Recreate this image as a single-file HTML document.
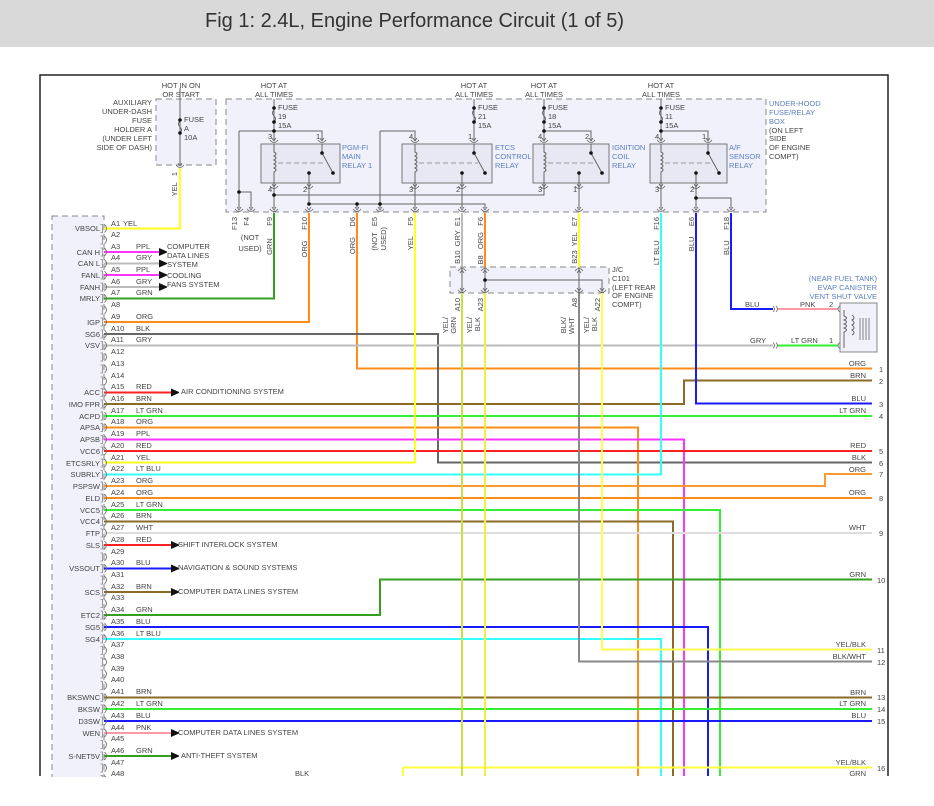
<!DOCTYPE html>
<html><head><meta charset="utf-8"><style>
html,body{margin:0;padding:0;background:#fff;}
svg{display:block;}
text{font-family:"Liberation Sans",sans-serif;font-size:7.5px;fill:#444;}
.b{fill:#5b7fbf;}
.w{fill:none;stroke-width:2;}
</style></head><body>
<svg width="934" height="806" viewBox="0 0 934 806" xmlns="http://www.w3.org/2000/svg">
<defs>
<g id="pin"><path d="M100.5,-4 h2 v8 h-2" fill="none" stroke="#888" stroke-width="0.8"/><path d="M104.5,-4 q4,4 0,8" fill="none" stroke="#666" stroke-width="0.8"/></g>
<g id="cn"><path d="M-4,-3 q4,5 8,0" fill="none" stroke="#666" stroke-width="0.8"/><path d="M-2,-5 l2,3 l2,-3" fill="none" stroke="#666" stroke-width="0.8"/></g>
<g id="cu"><path d="M-4,3 q4,-5 8,0" fill="none" stroke="#666" stroke-width="0.8"/><path d="M-2,5 l2,-3 l2,3" fill="none" stroke="#666" stroke-width="0.8"/></g>
<marker id="ar" markerWidth="8" markerHeight="8" refX="1" refY="4" orient="auto" markerUnits="userSpaceOnUse"><path d="M0,0 L9,4 L0,8z" fill="#111"/></marker>
</defs>
<rect x="0" y="0" width="934" height="47" fill="#d9d9d9"/>
<text x="205" y="27" style="font-size:20px;fill:#333">Fig 1: 2.4L, Engine Performance Circuit (1 of 5)</text>
<path d="M40,776 V75 H888 V776" fill="none" stroke="#222" stroke-width="1.5"/>

<rect x="52" y="216" width="52" height="565" fill="#f1f1fb" stroke="#888" stroke-dasharray="6,4"/>
<rect x="156" y="99" width="60" height="66" fill="#f1f1fb" stroke="#888" stroke-dasharray="6,4"/>
<rect x="226" y="99" width="540" height="113" fill="#f1f1fb" stroke="#888" stroke-dasharray="6,4"/>
<rect x="450" y="267" width="159" height="26" fill="#f1f1fb" stroke="#888" stroke-dasharray="6,4"/>
<rect x="840" y="303" width="37" height="49" fill="#f1f1fb" stroke="#888"/>
<path d="M844,310 v6 q5,2 0,4 q5,2 0,4 q5,2 0,4 q5,2 0,4 v16" fill="none" stroke="#666"/>
<path d="M860,318 v22 M863,318 v22 M866,318 v22 M869,318 v22" stroke="#666" stroke-width="0.8"/>
<path d="M852,315 q4,3 0,5 q4,3 0,5 q4,3 0,5 q4,3 0,5" fill="none" stroke="#666"/>

<g fill="#e8e8f4" stroke="#777">
<rect x="261" y="144" width="79" height="39"/>
<rect x="402" y="144" width="90" height="39"/>
<rect x="533" y="144" width="76" height="39"/>
<rect x="650" y="144" width="77" height="39"/>
</g>
<g stroke="#666" fill="none" stroke-width="1">
<path d="M180,88 V165"/>
<path d="M274,99 V140 M474,99 V140 M544,99 V140 M661,99 V140"/>
<path d="M239,131 H322 V140 M239,131 V208 M239,192 H251 V208"/>
<path d="M380,131 H415 V140 M380,131 V208"/>
<path d="M544,131 H591 V140 M661,131 H708 V140"/>
<path d="M274,183 V208 M274,195 H544 V183"/>
<path d="M309,183 V204 M309,204 H485 V208 M357,204 V208"/>
<path d="M415,183 V208 M462,183 V208 M579,183 V208 M661,183 V208 M696,183 V208 M696,198 H731 V208"/>
<path d="M274,144 V152 q4,2 0,4 q4,2 0,4 q4,2 0,4 q4,2 0,4 q4,2 0,4 V183"/>
<path d="M415,144 V152 q4,2 0,4 q4,2 0,4 q4,2 0,4 q4,2 0,4 q4,2 0,4 V183"/>
<path d="M544,144 V152 q4,2 0,4 q4,2 0,4 q4,2 0,4 q4,2 0,4 q4,2 0,4 V183"/>
<path d="M661,144 V152 q4,2 0,4 q4,2 0,4 q4,2 0,4 q4,2 0,4 q4,2 0,4 V183"/>
<path d="M322,144 V153 L333,173 M309,183 V173"/>
<path d="M474,144 V153 L485,173 M462,183 V173"/>
<path d="M591,144 V153 L602,173 M579,183 V173"/>
<path d="M708,144 V153 L719,173 M696,183 V173"/>
<path d="M278,163 H326 M419,163 H478 M548,163 H595 M665,163 H712" stroke-dasharray="5,3" stroke="#999"/>
<path d="M462,267 V293 M485,267 V293 M579,267 V293 M485,280 H602 V293"/>
</g>
<g fill="none" stroke="#666" stroke-width="1">
<path d="M274,110 q-3,3 0,6 q3,3 0,6"/>
<path d="M474,110 q-3,3 0,6 q3,3 0,6" />
<path d="M544,110 q-3,3 0,6 q3,3 0,6"/>
<path d="M661,110 q-3,3 0,6 q3,3 0,6"/>
<path d="M180,121 q-3,3 0,6 q3,3 0,6"/>
</g>
<g fill="#111">
<circle cx="274" cy="108" r="1.8"/><circle cx="274" cy="122" r="1.8"/>
<circle cx="474" cy="108" r="1.8"/><circle cx="474" cy="122" r="1.8"/>
<circle cx="544" cy="108" r="1.8"/><circle cx="544" cy="122" r="1.8"/>
<circle cx="661" cy="108" r="1.8"/><circle cx="661" cy="122" r="1.8"/>
<circle cx="180" cy="120" r="1.8"/><circle cx="180" cy="133" r="1.8"/>
<circle cx="274" cy="131" r="1.8"/><circle cx="544" cy="131" r="1.8"/><circle cx="661" cy="131" r="1.8"/>
<circle cx="239" cy="192" r="1.8"/><circle cx="274" cy="195" r="1.8"/>
<circle cx="309" cy="204" r="1.8"/><circle cx="357" cy="204" r="1.8"/><circle cx="380" cy="204" r="1.8"/>
<circle cx="696" cy="198" r="1.8"/><circle cx="485" cy="280" r="1.8"/>
<circle cx="322" cy="153" r="1.8"/><circle cx="333" cy="173" r="1.8"/><circle cx="309" cy="173" r="1.8"/>
<circle cx="474" cy="153" r="1.8"/><circle cx="485" cy="173" r="1.8"/><circle cx="462" cy="173" r="1.8"/>
<circle cx="591" cy="153" r="1.8"/><circle cx="602" cy="173" r="1.8"/><circle cx="579" cy="173" r="1.8"/>
<circle cx="708" cy="153" r="1.8"/><circle cx="719" cy="173" r="1.8"/><circle cx="696" cy="173" r="1.8"/>
</g>

<g class="w">
<path d="M180,168 V228.5 H104" stroke="#ffff20"/>
<path d="M104,252 H160" stroke="#ff33ff" marker-end="url(#ar)"/>
<path d="M104,263.5 H160" stroke="#bbb" marker-end="url(#ar)"/>
<path d="M104,275 H160" stroke="#ff33ff" marker-end="url(#ar)"/>
<path d="M104,287 H160" stroke="#bbb" marker-end="url(#ar)"/>
<path d="M274,213 V298.5 H104" stroke="#33a020"/>
<path d="M309,213 V322 H104" stroke="#ff8c1a"/>
<path d="M357,213 V368.5 H872" stroke="#ff8c1a"/>
<path d="M104,334 H438 V462.5 H872" stroke="#666"/>
<path d="M104,345.5 H773" stroke="#bbb"/>
<path d="M778,345.5 H838" stroke="#33ee33"/>
<path d="M731,213 V309 H773" stroke="#1a1aff"/>
<path d="M778,309 H838" stroke="#ff99aa"/>
<path d="M104,392.5 H172" stroke="#ff2020" marker-end="url(#ar)"/>
<path d="M104,404 H684 V380.5 H872" stroke="#8b6a2a"/>
<path d="M696,213 V403.5 H872" stroke="#1a1aff"/>
<path d="M104,416 H872" stroke="#33ee33"/>
<path d="M104,427.5 H638 V776" stroke="#ff8c1a"/>
<path d="M104,439.5 H684 V776" stroke="#ff33ff"/>
<path d="M104,451 H872" stroke="#ff2020"/>
<path d="M415,213 V462.5 H104" stroke="#ffff20"/>
<path d="M661,213 V474.5 H104" stroke="#33ffff"/>
<path d="M104,486 H825 V474 H872" stroke="#ff9a30"/>
<path d="M104,498 H872" stroke="#ff8c1a"/>
<path d="M104,510 H720 V776" stroke="#33ee33"/>
<path d="M104,521.5 H673 V776" stroke="#8b6a2a"/>
<path d="M104,533 H872" stroke="#ddd"/>
<path d="M104,545 H172" stroke="#ff2020" marker-end="url(#ar)"/>
<path d="M104,568.5 H172" stroke="#1a1aff" marker-end="url(#ar)"/>
<path d="M104,592 H172" stroke="#8b6a2a" marker-end="url(#ar)"/>
<path d="M104,615 H380 V579.5 H872" stroke="#33a020"/>
<path d="M104,627 H708 V776" stroke="#1a1aff"/>
<path d="M104,639 H661 V776" stroke="#33ffff"/>
<path d="M602,293 V649.5 H872" stroke="#ffff50"/>
<path d="M579,293 V661.5 H872" stroke="#888"/>
<path d="M104,697.5 H872" stroke="#8b6a2a"/>
<path d="M104,709 H872" stroke="#33ee33"/>
<path d="M104,721 H872" stroke="#1a1aff"/>
<path d="M104,733 H172" stroke="#ff99aa" marker-end="url(#ar)"/>
<path d="M104,756 H172" stroke="#33a020" marker-end="url(#ar)"/>
<path d="M403,776 V767.5 H872" stroke="#ffff40"/>
<path d="M462,213 V267" stroke="#bbb"/>
<path d="M485,213 V267" stroke="#ff8c1a"/>
<path d="M579,213 V267" stroke="#ffff20"/>
<path d="M462,293 V776" stroke="#c8e040"/>
<path d="M485,293 V776" stroke="#f0f040"/>
</g>

<g>
<use href="#cn" x="180" y="168"/>
<use href="#cn" x="239" y="212"/><use href="#cn" x="251" y="212"/><use href="#cn" x="274" y="212"/><use href="#cn" x="309" y="212"/><use href="#cn" x="357" y="212"/><use href="#cn" x="380" y="212"/><use href="#cn" x="415" y="212"/><use href="#cn" x="462" y="212"/><use href="#cn" x="485" y="212"/><use href="#cn" x="579" y="212"/><use href="#cn" x="661" y="212"/><use href="#cn" x="696" y="212"/><use href="#cn" x="731" y="212"/>
<use href="#cn" x="274" y="143"/><use href="#cn" x="322" y="143"/><use href="#cn" x="415" y="143"/><use href="#cn" x="474" y="143"/><use href="#cn" x="544" y="143"/><use href="#cn" x="591" y="143"/><use href="#cn" x="661" y="143"/><use href="#cn" x="708" y="143"/>
<use href="#cn" x="274" y="189"/><use href="#cn" x="309" y="189"/><use href="#cn" x="415" y="189"/><use href="#cn" x="462" y="189"/><use href="#cn" x="544" y="189"/><use href="#cn" x="579" y="189"/><use href="#cn" x="661" y="189"/><use href="#cn" x="696" y="189"/>
<use href="#cu" x="462" y="268"/><use href="#cu" x="485" y="268"/><use href="#cu" x="579" y="268"/>
<use href="#cn" x="462" y="293"/><use href="#cn" x="485" y="293"/><use href="#cn" x="579" y="293"/><use href="#cn" x="602" y="293"/>
</g>
<g fill="none" stroke="#666" stroke-width="0.8">
<path d="M773,306 q3,3 0,6 M776,306 q3,3 0,6 M773,342.5 q3,3 0,6 M776,342.5 q3,3 0,6 M840,306 q-4,3 0,6 M840,342.5 q-4,3 0,6"/>
</g>
<g>
<use href="#pin" y="228.5"/><use href="#pin" y="240"/><use href="#pin" y="252"/><use href="#pin" y="263.5"/><use href="#pin" y="275"/><use href="#pin" y="287"/><use href="#pin" y="298.5"/><use href="#pin" y="310"/><use href="#pin" y="322"/><use href="#pin" y="334"/><use href="#pin" y="345.5"/><use href="#pin" y="357"/><use href="#pin" y="369"/><use href="#pin" y="381"/><use href="#pin" y="392.5"/><use href="#pin" y="404"/><use href="#pin" y="416"/><use href="#pin" y="427.5"/><use href="#pin" y="439.5"/><use href="#pin" y="451"/><use href="#pin" y="463"/><use href="#pin" y="474.5"/><use href="#pin" y="486"/><use href="#pin" y="498"/><use href="#pin" y="510"/><use href="#pin" y="521.5"/><use href="#pin" y="533"/><use href="#pin" y="545"/><use href="#pin" y="557"/><use href="#pin" y="568.5"/><use href="#pin" y="580"/><use href="#pin" y="592"/><use href="#pin" y="603.5"/><use href="#pin" y="615"/><use href="#pin" y="627"/><use href="#pin" y="639"/><use href="#pin" y="650.5"/><use href="#pin" y="662"/><use href="#pin" y="674"/><use href="#pin" y="685.5"/><use href="#pin" y="697.5"/><use href="#pin" y="709"/><use href="#pin" y="721"/><use href="#pin" y="733"/><use href="#pin" y="744.5"/><use href="#pin" y="756"/><use href="#pin" y="768"/><use href="#pin" y="779.5"/>
</g>

<g>
<text x="111" y="226">A1</text><text x="123" y="226">YEL</text>
<text x="111" y="237">A2</text>
<text x="111" y="249">A3</text><text x="136" y="249">PPL</text>
<text x="111" y="260">A4</text><text x="136" y="260">GRY</text>
<text x="111" y="272">A5</text><text x="136" y="272">PPL</text>
<text x="111" y="284">A6</text><text x="136" y="284">GRY</text>
<text x="111" y="295">A7</text><text x="136" y="295">GRN</text>
<text x="111" y="307">A8</text>
<text x="111" y="319">A9</text><text x="136" y="319">ORG</text>
<text x="111" y="331">A10</text><text x="136" y="331">BLK</text>
<text x="111" y="342">A11</text><text x="136" y="342">GRY</text>
<text x="111" y="354">A12</text>
<text x="111" y="366">A13</text>
<text x="111" y="378">A14</text>
<text x="111" y="389">A15</text><text x="136" y="389">RED</text>
<text x="111" y="401">A16</text><text x="136" y="401">BRN</text>
<text x="111" y="413">A17</text><text x="136" y="413">LT GRN</text>
<text x="111" y="424">A18</text><text x="136" y="424">ORG</text>
<text x="111" y="436">A19</text><text x="136" y="436">PPL</text>
<text x="111" y="448">A20</text><text x="136" y="448">RED</text>
<text x="111" y="460">A21</text><text x="136" y="460">YEL</text>
<text x="111" y="471">A22</text><text x="136" y="471">LT BLU</text>
<text x="111" y="483">A23</text><text x="136" y="483">ORG</text>
<text x="111" y="495">A24</text><text x="136" y="495">ORG</text>
<text x="111" y="507">A25</text><text x="136" y="507">LT GRN</text>
<text x="111" y="518">A26</text><text x="136" y="518">BRN</text>
<text x="111" y="530">A27</text><text x="136" y="530">WHT</text>
<text x="111" y="542">A28</text><text x="136" y="542">RED</text>
<text x="111" y="554">A29</text>
<text x="111" y="565">A30</text><text x="136" y="565">BLU</text>
<text x="111" y="577">A31</text>
<text x="111" y="589">A32</text><text x="136" y="589">BRN</text>
<text x="111" y="600">A33</text>
<text x="111" y="612">A34</text><text x="136" y="612">GRN</text>
<text x="111" y="624">A35</text><text x="136" y="624">BLU</text>
<text x="111" y="636">A36</text><text x="136" y="636">LT BLU</text>
<text x="111" y="647">A37</text>
<text x="111" y="659">A38</text>
<text x="111" y="671">A39</text>
<text x="111" y="682">A40</text>
<text x="111" y="694">A41</text><text x="136" y="694">BRN</text>
<text x="111" y="706">A42</text><text x="136" y="706">LT GRN</text>
<text x="111" y="718">A43</text><text x="136" y="718">BLU</text>
<text x="111" y="730">A44</text><text x="136" y="730">PNK</text>
<text x="111" y="741">A45</text>
<text x="111" y="753">A46</text><text x="136" y="753">GRN</text>
<text x="111" y="765">A47</text>
<text x="111" y="776">A48</text>
</g>
<g text-anchor="end">
<text x="100" y="231">VBSOL</text>
<text x="100" y="255">CAN H</text>
<text x="100" y="266">CAN L</text>
<text x="100" y="278">FANL</text>
<text x="100" y="290">FANH</text>
<text x="100" y="301">MRLY</text>
<text x="100" y="325">IGP</text>
<text x="100" y="337">SG6</text>
<text x="100" y="348">VSV</text>
<text x="100" y="395">ACC</text>
<text x="100" y="407">IMO FPR</text>
<text x="100" y="419">ACPD</text>
<text x="100" y="430">APSA</text>
<text x="100" y="442">APSB</text>
<text x="100" y="454">VCC6</text>
<text x="100" y="466">ETCSRLY</text>
<text x="100" y="477">SUBRLY</text>
<text x="100" y="489">PSPSW</text>
<text x="100" y="501">ELD</text>
<text x="100" y="513">VCC5</text>
<text x="100" y="524">VCC4</text>
<text x="100" y="536">FTP</text>
<text x="100" y="548">SLS</text>
<text x="100" y="571">VSSOUT</text>
<text x="100" y="595">SCS</text>
<text x="100" y="618">ETC2</text>
<text x="100" y="630">SG5</text>
<text x="100" y="642">SG4</text>
<text x="100" y="700">BKSWNC</text>
<text x="100" y="712">BKSW</text>
<text x="100" y="724">D3SW</text>
<text x="100" y="736">WEN</text>
<text x="100" y="759">S-NET5V</text>
</g>
<g>
<text x="167" y="249">COMPUTER</text><text x="167" y="258">DATA LINES</text><text x="167" y="267">SYSTEM</text>
<text x="167" y="278">COOLING</text><text x="167" y="287">FANS SYSTEM</text>
<text x="181" y="394">AIR CONDITIONING SYSTEM</text>
<text x="178" y="547">SHIFT INTERLOCK SYSTEM</text>
<text x="178" y="570">NAVIGATION &amp; SOUND SYSTEMS</text>
<text x="178" y="594">COMPUTER DATA LINES SYSTEM</text>
<text x="178" y="735">COMPUTER DATA LINES SYSTEM</text>
<text x="181" y="758">ANTI-THEFT SYSTEM</text>
<text x="295" y="776">BLK</text>
</g>

<g text-anchor="end">
<text x="866" y="366">ORG</text><text x="866" y="378">BRN</text><text x="866" y="401">BLU</text><text x="866" y="413">LT GRN</text>
<text x="866" y="448">RED</text><text x="866" y="460">BLK</text><text x="866" y="472">ORG</text><text x="866" y="495">ORG</text>
<text x="866" y="530">WHT</text><text x="866" y="577">GRN</text><text x="866" y="647">YEL/BLK</text><text x="866" y="659">BLK/WHT</text>
<text x="866" y="695">BRN</text><text x="866" y="706">LT GRN</text><text x="866" y="718">BLU</text>
<text x="866" y="765">YEL/BLK</text><text x="866" y="776">GRN</text>
</g>
<g>
<text x="879" y="372">1</text><text x="879" y="384">2</text><text x="879" y="407">3</text><text x="879" y="419">4</text>
<text x="879" y="454">5</text><text x="879" y="466">6</text><text x="879" y="477">7</text><text x="879" y="501">8</text>
<text x="879" y="536">9</text><text x="877" y="583">10</text><text x="877" y="653">11</text><text x="877" y="665">12</text>
<text x="877" y="700">13</text><text x="877" y="712">14</text><text x="877" y="724">15</text><text x="877" y="771">16</text>
</g>

<g text-anchor="middle">
<text x="181" y="88">HOT IN ON</text><text x="181" y="97">OR START</text>
<text x="274" y="88">HOT AT</text><text x="274" y="97">ALL TIMES</text>
<text x="474" y="88">HOT AT</text><text x="474" y="97">ALL TIMES</text>
<text x="544" y="88">HOT AT</text><text x="544" y="97">ALL TIMES</text>
<text x="661" y="88">HOT AT</text><text x="661" y="97">ALL TIMES</text>
<text x="250" y="240">(NOT</text><text x="250" y="251">USED)</text>
</g>
<g text-anchor="end">
<text x="152" y="105">AUXILIARY</text><text x="152" y="114">UNDER-DASH</text><text x="152" y="123">FUSE</text><text x="152" y="132">HOLDER A</text><text x="152" y="141">(UNDER LEFT</text><text x="152" y="150">SIDE OF DASH)</text>
<text x="877" y="281" class="b">(NEAR FUEL TANK)</text><text x="877" y="290" class="b">EVAP CANISTER</text><text x="877" y="299" class="b">VENT SHUT VALVE</text>
</g>
<g>
<text x="184" y="122">FUSE</text><text x="184" y="131">A</text><text x="184" y="140">10A</text>
<text x="278" y="110">FUSE</text><text x="278" y="119">19</text><text x="278" y="128">15A</text>
<text x="478" y="110">FUSE</text><text x="478" y="119">21</text><text x="478" y="128">15A</text>
<text x="548" y="110">FUSE</text><text x="548" y="119">18</text><text x="548" y="128">15A</text>
<text x="665" y="110">FUSE</text><text x="665" y="119">11</text><text x="665" y="128">15A</text>
<text x="342" y="150" class="b">PGM-FI</text><text x="342" y="159" class="b">MAIN</text><text x="342" y="168" class="b">RELAY 1</text>
<text x="495" y="150" class="b">ETCS</text><text x="495" y="159" class="b">CONTROL</text><text x="495" y="168" class="b">RELAY</text>
<text x="612" y="150" class="b">IGNITION</text><text x="612" y="159" class="b">COIL</text><text x="612" y="168" class="b">RELAY</text>
<text x="729" y="150" class="b">A/F</text><text x="729" y="159" class="b">SENSOR</text><text x="729" y="168" class="b">RELAY</text>
<text x="769" y="106" class="b">UNDER-HOOD</text><text x="769" y="115" class="b">FUSE/RELAY</text><text x="769" y="124" class="b">BOX</text><text x="769" y="133">(ON LEFT</text><text x="769" y="141">SIDE</text><text x="769" y="150">OF ENGINE</text><text x="769" y="159">COMPT)</text>
<text x="612" y="272">J/C</text><text x="612" y="281">C101</text><text x="612" y="290">(LEFT REAR</text><text x="612" y="298">OF ENGINE</text><text x="612" y="307">COMPT)</text>
<text x="750" y="343">GRY</text><text x="791" y="343">LT GRN</text><text x="829" y="343">1</text>
<text x="745" y="307">BLU</text><text x="800" y="307">PNK</text><text x="829" y="307">2</text>
<text x="268" y="139">3</text><text x="316" y="139">1</text><text x="268" y="192">4</text><text x="303" y="192">2</text>
<text x="409" y="139">4</text><text x="468" y="139">1</text><text x="409" y="192">3</text><text x="456" y="192">2</text>
<text x="538" y="139">4</text><text x="585" y="139">2</text><text x="538" y="192">3</text><text x="573" y="192">1</text>
<text x="655" y="139">4</text><text x="702" y="139">1</text><text x="655" y="192">3</text><text x="690" y="192">2</text>
</g>
<g text-anchor="end" style="white-space:pre">
<text transform="translate(177,172) rotate(-90)" xml:space="preserve">YEL   1</text>
<text transform="translate(237,217) rotate(-90)">F13</text>
<text transform="translate(249,217) rotate(-90)">F4</text>
<text transform="translate(272,217) rotate(-90)" xml:space="preserve">GRN      F9</text>
<text transform="translate(307,217) rotate(-90)" xml:space="preserve">ORG     F10</text>
<text transform="translate(355,217) rotate(-90)" xml:space="preserve">ORG     D6</text>
<text transform="translate(377,217) rotate(-90)" xml:space="preserve">(NOT   E5</text>
<text transform="translate(386,227) rotate(-90)">USED)</text>
<text transform="translate(413,217) rotate(-90)" xml:space="preserve">YEL     F5</text>
<text transform="translate(460,217) rotate(-90)" xml:space="preserve">B10  GRY  E1</text>
<text transform="translate(483,217) rotate(-90)" xml:space="preserve">B8   ORG   F6</text>
<text transform="translate(577,217) rotate(-90)" xml:space="preserve">B23  YEL   E7</text>
<text transform="translate(659,217) rotate(-90)" xml:space="preserve">LT BLU     F16</text>
<text transform="translate(694,217) rotate(-90)" xml:space="preserve">BLU     E6</text>
<text transform="translate(729,217) rotate(-90)" xml:space="preserve">BLU     F18</text>
<text transform="translate(460,298) rotate(-90)">A10</text>
<text transform="translate(483,298) rotate(-90)">A23</text>
<text transform="translate(577,298) rotate(-90)">A8</text>
<text transform="translate(600,298) rotate(-90)">A22</text>
<text transform="translate(448,317) rotate(-90)">YEL/</text>
<text transform="translate(456,317) rotate(-90)">GRN</text>
<text transform="translate(472,317) rotate(-90)">YEL/</text>
<text transform="translate(480,317) rotate(-90)">BLK</text>
<text transform="translate(566,317) rotate(-90)">BLK/</text>
<text transform="translate(574,317) rotate(-90)">WHT</text>
<text transform="translate(589,317) rotate(-90)">YEL/</text>
<text transform="translate(597,317) rotate(-90)">BLK</text>
</g>
<rect x="0" y="777" width="934" height="29" fill="#fff"/>
</svg>
</body></html>
